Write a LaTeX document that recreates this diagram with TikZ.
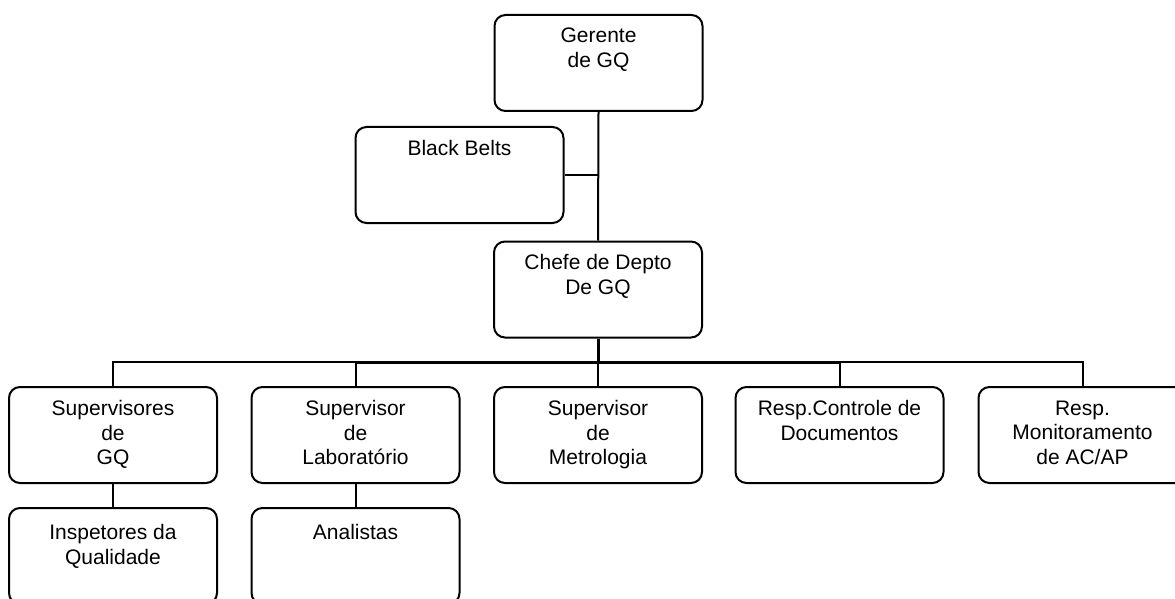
\documentclass[tikz,border=0pt]{standalone}
\usepackage{fontspec}
\setmainfont{Liberation Sans}
\usetikzlibrary{calc}
\begin{document}
\begin{tikzpicture}[x=1pt,y=-1pt,
  orgbox/.style={draw, line width=2pt, rounded corners=11pt,
    minimum width=208pt, minimum height=96pt, inner sep=0pt},
  lbl/.style={anchor=north, align=center, inner sep=0pt,
    font=\fontsize{21}{24.5}\selectfont},
  link/.style={line width=2pt},
  heavy/.style={line width=3pt}]
\clip (0,0) rectangle (1175,599);

% boxes
\node[orgbox] (ger)   at (598.5,63)   {};
\node[orgbox] (bb)    at (459.5,175)  {};
\node[orgbox] (chefe) at (598,289.5)  {};
\node[orgbox] (sup1)  at (113,435)    {};
\node[orgbox] (sup2)  at (355.5,435)  {};
\node[orgbox] (sup3)  at (598,435)    {};
\node[orgbox] (sup4)  at (839.5,435)  {};
\node[orgbox] (sup5)  at (1082.5,435) {};
\node[orgbox] (insp)  at (113,556)    {};
\node[orgbox] (anal)  at (355.5,556)  {};

% labels, set from the top of each box
\node[lbl] (gerT)   at ($(ger.north)+(0,14)$)     {Gerente\\de GQ};
\node[lbl] (bbT)    at ($(bb.north)+(0,14)$)      {Black Belts};
\node[lbl] (chefeT) at ($(chefe.north)+(0,14)$)   {Chefe de Depto\\De GQ};
\node[lbl] (sup1T)  at ($(sup1.north)+(0,14.5)$)  {Supervisores\\de\\GQ};
\node[lbl] (sup2T)  at ($(sup2.north)+(0,14.5)$)  {Supervisor\\de\\Laboratório};
\node[lbl] (sup3T)  at ($(sup3.north)+(0,14.5)$)  {Supervisor\\de\\Metrologia};
\node[lbl] (sup4T)  at ($(sup4.north)+(0,14.5)$)  {Resp.Controle de\\Documentos};
\node[lbl] (sup5T)  at ($(sup5.north)+(0,14.5)$)  {Resp.\\Monitoramento\\de AC/AP};
\node[lbl] (inspT)  at ($(insp.north)+(0,17.5)$)  {Inspetores da\\Qualidade};
\node[lbl] (analT)  at ($(anal.north)+(0,17.5)$)  {Analistas};

% connectors
\coordinate (bus) at (598,362);
\draw[link] (ger.south) -- (chefe.north);
\draw[link] (bb.east) -- (bb.east -| ger.south);
\draw[heavy] (chefe.south) -- (bus);
\draw[link] (sup1.north) |- (bus) -| (sup5.north);
\draw[heavy] (sup2.north |- bus) -- (sup4.north |- bus);
\draw[link] (sup2.north) -- (sup2.north |- bus);
\draw[link] (sup3.north) -- (bus);
\draw[link] (sup4.north) -- (sup4.north |- bus);
\draw[link] (sup1.south) -- (insp.north);
\draw[link] (sup2.south) -- (anal.north);
\end{tikzpicture}
\end{document}
